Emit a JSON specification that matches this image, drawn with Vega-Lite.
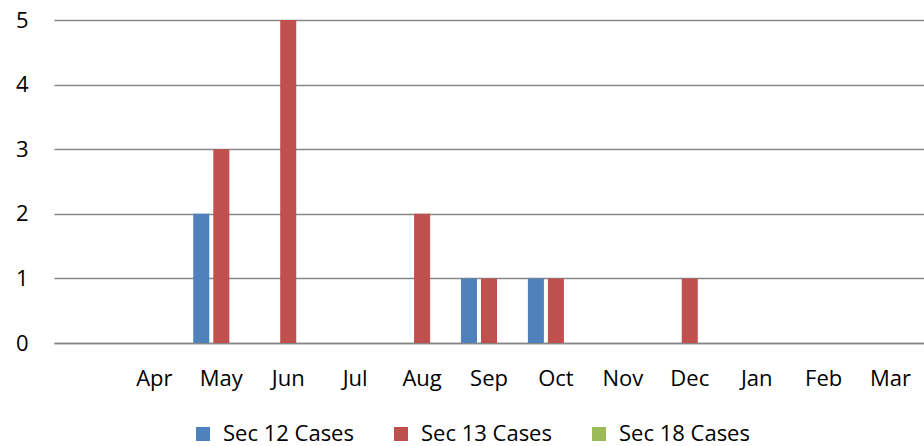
{
  "$schema": "https://vega.github.io/schema/vega-lite/v6.json",
  "width": 870,
  "height": 323,
  "autosize": {"type": "none"},
  "padding": {"left": 54, "top": 20, "right": 0, "bottom": 103},
  "background": "white",
  "config": {
    "view": {"stroke": null},
    "font": "Open Sans",
    "axis": {"labelFont": "Open Sans", "labelFontSize": 22, "labelColor": "#000000"},
    "legend": {"labelFont": "Open Sans", "labelFontSize": 22, "labelColor": "#000000"}
  },
  "data": {
    "values": [
      {"month": "Apr", "series": "Sec 12 Cases", "value": 0},
      {"month": "Apr", "series": "Sec 13 Cases", "value": 0},
      {"month": "Apr", "series": "Sec 18 Cases", "value": 0},
      {"month": "May", "series": "Sec 12 Cases", "value": 2},
      {"month": "May", "series": "Sec 13 Cases", "value": 3},
      {"month": "May", "series": "Sec 18 Cases", "value": 0},
      {"month": "Jun", "series": "Sec 12 Cases", "value": 0},
      {"month": "Jun", "series": "Sec 13 Cases", "value": 5},
      {"month": "Jun", "series": "Sec 18 Cases", "value": 0},
      {"month": "Jul", "series": "Sec 12 Cases", "value": 0},
      {"month": "Jul", "series": "Sec 13 Cases", "value": 0},
      {"month": "Jul", "series": "Sec 18 Cases", "value": 0},
      {"month": "Aug", "series": "Sec 12 Cases", "value": 0},
      {"month": "Aug", "series": "Sec 13 Cases", "value": 2},
      {"month": "Aug", "series": "Sec 18 Cases", "value": 0},
      {"month": "Sep", "series": "Sec 12 Cases", "value": 1},
      {"month": "Sep", "series": "Sec 13 Cases", "value": 1},
      {"month": "Sep", "series": "Sec 18 Cases", "value": 0},
      {"month": "Oct", "series": "Sec 12 Cases", "value": 1},
      {"month": "Oct", "series": "Sec 13 Cases", "value": 1},
      {"month": "Oct", "series": "Sec 18 Cases", "value": 0},
      {"month": "Nov", "series": "Sec 12 Cases", "value": 0},
      {"month": "Nov", "series": "Sec 13 Cases", "value": 0},
      {"month": "Nov", "series": "Sec 18 Cases", "value": 0},
      {"month": "Dec", "series": "Sec 12 Cases", "value": 0},
      {"month": "Dec", "series": "Sec 13 Cases", "value": 1},
      {"month": "Dec", "series": "Sec 18 Cases", "value": 0},
      {"month": "Jan", "series": "Sec 12 Cases", "value": 0},
      {"month": "Jan", "series": "Sec 13 Cases", "value": 0},
      {"month": "Jan", "series": "Sec 18 Cases", "value": 0},
      {"month": "Feb", "series": "Sec 12 Cases", "value": 0},
      {"month": "Feb", "series": "Sec 13 Cases", "value": 0},
      {"month": "Feb", "series": "Sec 18 Cases", "value": 0},
      {"month": "Mar", "series": "Sec 12 Cases", "value": 0},
      {"month": "Mar", "series": "Sec 13 Cases", "value": 0},
      {"month": "Mar", "series": "Sec 18 Cases", "value": 0}
    ]
  },
  "mark": {"type": "bar"},
  "encoding": {
    "x": {
      "field": "month",
      "type": "nominal",
      "sort": null,
      "scale": {"domain": [" ", "Apr", "May", "Jun", "Jul", "Aug", "Sep", "Oct", "Nov", "Dec", "Jan", "Feb", "Mar"], "paddingInner": 0, "paddingOuter": 0},
      "axis": {
        "title": null,
        "labelAngle": 0,
        "ticks": false,
        "grid": false,
        "domain": true,
        "domainColor": "#868686",
        "domainWidth": 1.3,
        "labelBaseline": "alphabetic",
        "labelPadding": 42
      }
    },
    "xOffset": {
      "field": "series",
      "type": "nominal",
      "scale": {"paddingInner": 0.2, "paddingOuter": 0.27}
    },
    "y": {
      "field": "value",
      "type": "quantitative",
      "scale": {"domain": [0, 5], "nice": false},
      "axis": {
        "title": null,
        "values": [0, 1, 2, 3, 4, 5],
        "ticks": false,
        "domain": false,
        "grid": true,
        "gridColor": "#868686",
        "gridWidth": 1.3,
        "labelPadding": 26
      }
    },
    "color": {
      "field": "series",
      "type": "nominal",
      "scale": {"domain": ["Sec 12 Cases", "Sec 13 Cases", "Sec 18 Cases"], "range": ["#4F81BD", "#C0504D", "#9BBB59"]},
      "legend": {
        "title": null,
        "orient": "none",
        "direction": "horizontal",
        "columns": 3,
        "legendX": 138,
        "legendY": 403,
        "symbolType": "square",
        "symbolSize": 196,
        "symbolStrokeWidth": 0,
        "labelOffset": 9,
        "columnPadding": 36,
        "padding": 0
      }
    }
  }
}
